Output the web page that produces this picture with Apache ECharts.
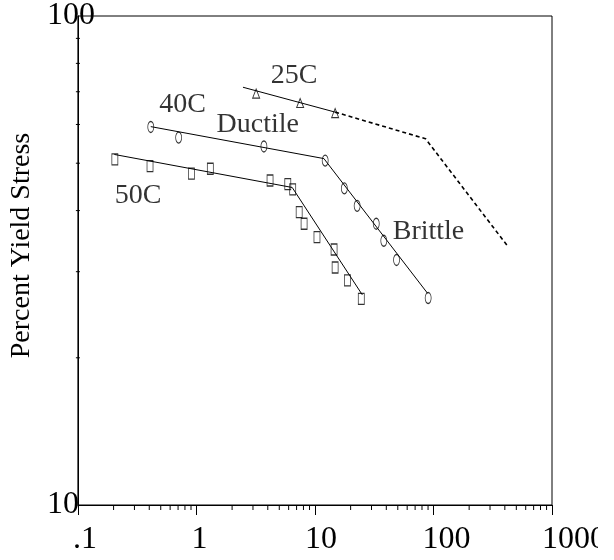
<!DOCTYPE html>
<html><head><meta charset="utf-8">
<script src="https://cdn.jsdelivr.net/npm/echarts@6/dist/echarts.min.js"></script>
<style>html,body{margin:0;padding:0;background:#fff;}#wrap{width:598px;height:560px;overflow:hidden;}#c{width:614px;height:560px;}</style>
</head><body><div id="wrap"><div id="c"></div></div>
<script>
// ---- data ----
const xTickLabels = ['.1', '1', '10', '100', '1000'];
const yTickLabels = ['10', '100'];
const xMinorTicks = [0.2,0.3,0.4,0.5,0.6,0.7,0.8,0.9, 2,3,4,5,6,7,8,9, 20,30,40,50,60,70,80,90, 200,300,400,500,600,700,800,900];
const yMinorTicks = [20,30,40,50,60,70,80,90];

const c50Points = [[0.205,50.9],[0.406,49.3],[0.908,47.6],[1.31,48.7],[4.18,46.1],[5.90,45.3],[6.49,44.2],[7.36,39.7],[8.10,37.6],[10.4,35.3],[14.5,33.3],[14.8,30.6],[18.8,28.8],[24.6,26.4]];
const c50Ductile = [[0.203,52.1],[6.43,44.6]];
const c50Brittle = [[6.43,44.6],[25.1,26.9]];

const c40Points = [[0.412,59.3],[0.708,56.4],[3.71,54.1],[12.2,50.6],[17.7,44.4],[22.7,40.9],[32.9,37.6],[38.1,34.7],[48.8,31.7],[90.2,26.5]];
const c40Ductile = [[0.412,59.4],[11.9,51.1]];
const c40Brittle = [[11.9,51.1],[89.1,27.1]];

const c25Points = [[3.19,69.4],[7.50,66.4],[14.8,63.3]];
const c25Measured = [[2.47,71.5],[14.8,63.6]];
const c25Projected = [[14.8,63.6],[85.7,56.1],[424,33.8]];

const annotationText = ['25C', '40C', 'Ductile', 'Brittle', '50C'];
const annotationAt = [[6.68,75.6],[0.764,66.0],[3.29,59.9],[90.8,36.2],[0.322,43.0]];

// ---- chart ----
const FONT = 'Liberation Serif';
const chart = echarts.init(document.getElementById('c'), null, {renderer: 'canvas'});
const lineStyle = {color: '#000', width: 1};
const xShift = {'.1': 's7', '1': 's3', '10': 's6', '100': 's13', '1000': 's22'};
const rich = {};
[3,6,7,13,22].forEach(n => { rich['s' + n] = {fontFamily: FONT, fontSize: 32, color: '#000', padding: [0, 0, 0, 2 * n]}; });

function tickSeries(data, horizontal) {
  return {
    type: 'custom', silent: true, clip: false, z: 5,
    data: data,
    encode: {x: 0, y: 1},
    renderItem: function (params, api) {
      const p = api.coord([api.value(0), api.value(1)]);
      const shape = horizontal
        ? {x1: p[0] - 2, y1: p[1], x2: p[0] + 2, y2: p[1]}
        : {x1: p[0], y1: p[1], x2: p[0], y2: p[1] + 5};
      return {type: 'line', shape: shape, style: {stroke: '#000', lineWidth: 1}};
    }
  };
}

const option = {
  animation: false,
  backgroundColor: '#fff',
  grid: {left: 73, top: 10, width: 479, height: 495, show: true, borderColor: '#000', borderWidth: 1, backgroundColor: 'transparent'},
  xAxis: {
    type: 'log', logBase: 10, min: 0.1, max: 1000,
    axisLine: {show: true, lineStyle: {color: '#000', width: 1}},
    axisTick: {show: true, inside: false, length: 10, lineStyle: {color: '#000', width: 1}},
    splitLine: {show: false},
    axisLabel: {
      margin: 19, fontFamily: FONT, fontSize: 32, color: '#000',
      formatter: function (v, i) { const t = xTickLabels[i]; return '{' + xShift[t] + '|' + t + '}'; },
      rich: rich
    }
  },
  yAxis: {
    type: 'log', logBase: 10, min: 10, max: 100,
    name: 'Percent Yield Stress', nameLocation: 'middle', nameRotate: 90, nameGap: 38,
    nameTextStyle: {fontFamily: FONT, fontSize: 28, color: '#000', padding: [0, 0, 0, 30]},
    axisLine: {show: true, lineStyle: {color: '#000', width: 1}},
    axisTick: {show: false},
    splitLine: {show: false},
    axisLabel: {
      margin: 31, align: 'left', fontFamily: FONT, fontSize: 32, color: '#000', padding: [12, 0, 0, 0],
      formatter: function (v, i) { return yTickLabels[i]; }
    }
  },
  series: [
    tickSeries(xMinorTicks.map(v => [v, 10]), false),
    tickSeries(yMinorTicks.map(v => [0.1, v]), true),
    {type: 'line', data: c50Ductile, symbol: 'none', lineStyle: lineStyle, silent: true},
    {type: 'line', data: c50Brittle, symbol: 'none', lineStyle: lineStyle, silent: true},
    {type: 'line', data: c40Ductile, symbol: 'none', lineStyle: lineStyle, silent: true},
    {type: 'line', data: c40Brittle, symbol: 'none', lineStyle: lineStyle, silent: true},
    {type: 'line', data: c25Measured, symbol: 'none', lineStyle: lineStyle, silent: true},
    {type: 'line', data: c25Projected, symbol: 'none', lineStyle: {color: '#000', width: 1.6, type: [4, 3]}, silent: true},
    {type: 'scatter', data: c50Points, symbol: 'rect', symbolSize: [6, 11],
      itemStyle: {color: 'rgba(255,255,255,0)', borderColor: '#000', borderWidth: 1}},
    {type: 'scatter', data: c40Points, symbol: 'circle', symbolSize: [6, 11],
      itemStyle: {color: 'rgba(255,255,255,0)', borderColor: '#000', borderWidth: 1}},
    {type: 'scatter', data: c25Points, symbol: 'triangle', symbolSize: [7, 9],
      itemStyle: {color: 'rgba(255,255,255,0)', borderColor: '#000', borderWidth: 1}},
    {type: 'scatter', data: annotationAt.map((p, i) => ({value: p, name: annotationText[i]})),
      symbolSize: 0, silent: true,
      label: {show: true, position: 'inside', formatter: '{b}', fontFamily: FONT, fontSize: 28, color: '#000'}}
  ]
};
chart.setOption(option);
</script>
</body></html>
